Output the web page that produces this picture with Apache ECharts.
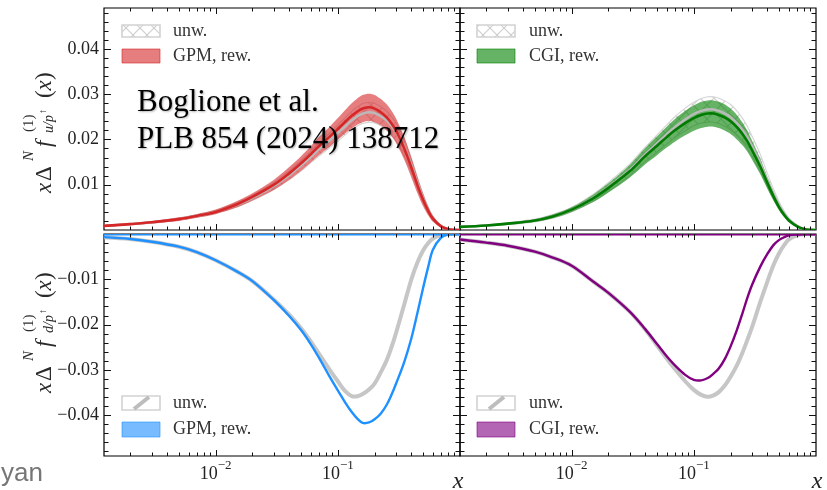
<!DOCTYPE html>
<html>
<head>
<meta charset="utf-8">
<script src="https://cdn.jsdelivr.net/npm/echarts@6/dist/echarts.min.js"></script>
<style>
  html, body { margin: 0; padding: 0; background: #fff; }
  #chart { width: 827px; height: 490px; }
</style>
</head>
<body>
<div id="chart"></div>
<script>
// x grid shared by every curve (log-spaced momentum fraction)
const xGrid = [0.00122, 0.002, 0.003, 0.005, 0.007, 0.01, 0.015, 0.02, 0.03, 0.04,
               0.05, 0.06, 0.07, 0.085, 0.1, 0.115, 0.13, 0.145, 0.16, 0.18,
               0.2, 0.225, 0.25, 0.275, 0.3, 0.35, 0.4, 0.45, 0.5, 0.55,
               0.6, 0.7, 0.8, 0.9, 1];

// u quark, GPM: reweighted central value and band
const uGpmRew   = [0.0009, 0.0013, 0.0017, 0.0024, 0.0031, 0.0040, 0.0057, 0.0073, 0.0100, 0.0125,
                   0.0147, 0.0167, 0.0185, 0.0205, 0.0223, 0.0239, 0.0252, 0.0262, 0.0268, 0.0271,
                   0.0268, 0.0260, 0.0249, 0.0235, 0.0219, 0.0180, 0.0138, 0.0098, 0.0066, 0.0042,
                   0.0025, 0.0008, 0.0002, 0.00003, 0];
const uGpmRewHi = [0.0011, 0.0015, 0.00195, 0.0028, 0.0035, 0.0045, 0.0064, 0.0081, 0.0111, 0.0139,
                   0.0163, 0.0185, 0.0205, 0.0227, 0.0247, 0.0265, 0.0280, 0.0291, 0.0298, 0.0301,
                   0.0298, 0.0289, 0.0278, 0.0263, 0.0246, 0.0205, 0.0160, 0.0116, 0.0080, 0.0052,
                   0.0032, 0.0011, 0.0003, 0.00006, 0];
const uGpmRewLo = [0.0007, 0.0011, 0.00145, 0.0020, 0.0027, 0.0035, 0.0050, 0.0065, 0.0089, 0.0111,
                   0.0131, 0.0149, 0.0165, 0.0183, 0.0199, 0.0213, 0.0224, 0.0233, 0.0238, 0.0241,
                   0.0238, 0.0231, 0.0220, 0.0207, 0.0192, 0.0155, 0.0116, 0.0080, 0.0052, 0.0032,
                   0.0018, 0.0005, 0.0001, 0, 0];
// u quark, GPM: unweighted
const uGpmUnw   = [0.0009, 0.0013, 0.0017, 0.0024, 0.0031, 0.0040, 0.0056, 0.0071, 0.0097, 0.0121,
                   0.0142, 0.0161, 0.0178, 0.0197, 0.0214, 0.0229, 0.0242, 0.0251, 0.0257, 0.0260,
                   0.0258, 0.0251, 0.0242, 0.0230, 0.0216, 0.0182, 0.0143, 0.0103, 0.0069, 0.0044,
                   0.0026, 0.0009, 0.0002, 0.00003, 0];
const uGpmUnwHi = [0.0010, 0.0014, 0.0019, 0.0026, 0.0034, 0.0043, 0.0061, 0.0077, 0.0105, 0.0131,
                   0.0154, 0.0174, 0.0193, 0.0213, 0.0232, 0.0248, 0.0262, 0.0272, 0.0279, 0.0282,
                   0.0280, 0.0272, 0.0263, 0.0250, 0.0236, 0.0200, 0.0158, 0.0115, 0.0078, 0.0050,
                   0.0030, 0.0010, 0.0003, 0.00005, 0];
const uGpmUnwLo = [0.0008, 0.0012, 0.0015, 0.0022, 0.0028, 0.0037, 0.0051, 0.0065, 0.0089, 0.0111,
                   0.0130, 0.0148, 0.0163, 0.0181, 0.0196, 0.0210, 0.0222, 0.0230, 0.0235, 0.0238,
                   0.0236, 0.0230, 0.0221, 0.0210, 0.0196, 0.0163, 0.0127, 0.0090, 0.0060, 0.0038,
                   0.0022, 0.0008, 0.0002, 0.00002, 0];

// u quark, CGI: reweighted
const uCgiRew   = [0.0007, 0.0010, 0.0014, 0.0021, 0.0030, 0.0045, 0.0070, 0.0093, 0.0130, 0.0163,
                   0.0186, 0.0205, 0.0220, 0.0236, 0.0247, 0.0254, 0.0257, 0.0257, 0.0254, 0.0248,
                   0.0240, 0.0227, 0.0212, 0.0195, 0.0176, 0.0140, 0.0104, 0.0074, 0.0050, 0.0033,
                   0.0021, 0.0008, 0.0002, 0.00003, 0];
const uCgiRewHi = [0.0008, 0.0011, 0.0016, 0.0024, 0.0034, 0.0050, 0.0078, 0.0103, 0.0144, 0.0181,
                   0.0207, 0.0228, 0.0245, 0.0263, 0.0275, 0.0283, 0.0286, 0.0286, 0.0283, 0.0277,
                   0.0268, 0.0254, 0.0237, 0.0218, 0.0197, 0.0157, 0.0117, 0.0084, 0.0057, 0.0038,
                   0.0025, 0.0010, 0.0003, 0.00005, 0];
const uCgiRewLo = [0.0006, 0.0009, 0.0012, 0.0018, 0.0026, 0.0040, 0.0062, 0.0083, 0.0116, 0.0145,
                   0.0165, 0.0182, 0.0195, 0.0209, 0.0219, 0.0225, 0.0228, 0.0228, 0.0225, 0.0219,
                   0.0212, 0.0200, 0.0187, 0.0172, 0.0155, 0.0123, 0.0091, 0.0064, 0.0043, 0.0028,
                   0.0017, 0.0006, 0.0001, 0, 0];
// u quark, CGI: unweighted
const uCgiUnw   = [0.0007, 0.0010, 0.0014, 0.0021, 0.0030, 0.0045, 0.0071, 0.0095, 0.0133, 0.0167,
                   0.0191, 0.0211, 0.0227, 0.0244, 0.0256, 0.0263, 0.0266, 0.0266, 0.0263, 0.0257,
                   0.0249, 0.0236, 0.0221, 0.0204, 0.0185, 0.0148, 0.0110, 0.0079, 0.0054, 0.0036,
                   0.0023, 0.0009, 0.0002, 0.00003, 0];
const uCgiUnwHi = [0.0008, 0.0011, 0.0016, 0.0024, 0.0034, 0.0050, 0.0079, 0.0105, 0.0146, 0.0183,
                   0.0210, 0.0232, 0.0250, 0.0269, 0.0282, 0.0290, 0.0294, 0.0294, 0.0291, 0.0285,
                   0.0277, 0.0263, 0.0247, 0.0228, 0.0207, 0.0167, 0.0125, 0.0090, 0.0062, 0.0042,
                   0.0027, 0.0011, 0.0003, 0.00005, 0];
const uCgiUnwLo = [0.0006, 0.0009, 0.0012, 0.0018, 0.0026, 0.0040, 0.0063, 0.0085, 0.0120, 0.0151,
                   0.0172, 0.0190, 0.0204, 0.0219, 0.0230, 0.0236, 0.0238, 0.0238, 0.0235, 0.0229,
                   0.0221, 0.0209, 0.0196, 0.0180, 0.0163, 0.0129, 0.0095, 0.0068, 0.0046, 0.0030,
                   0.0019, 0.0007, 0.0001, 0, 0];

// d quark, GPM
const dGpmRew = [-0.0007, -0.0011, -0.0017, -0.0028, -0.0040, -0.0058, -0.0083, -0.0104, -0.0146, -0.0181,
                 -0.0212, -0.0243, -0.0273, -0.0313, -0.0345, -0.0372, -0.0393, -0.0408, -0.0417, -0.0416,
                 -0.0409, -0.0396, -0.0378, -0.0355, -0.0330, -0.0282, -0.0230, -0.0172, -0.0118, -0.0072,
                 -0.0035, -0.0008, -0.0001, 0, 0];
const dGpmUnw = [-0.0007, -0.0011, -0.0017, -0.0028, -0.0040, -0.0058, -0.0083, -0.0104, -0.0145, -0.0178,
                 -0.0208, -0.0237, -0.0264, -0.0298, -0.0325, -0.0347, -0.0358, -0.0358, -0.0353, -0.0343,
                 -0.0330, -0.0305, -0.0280, -0.0250, -0.0218, -0.0155, -0.0100, -0.0062, -0.0036, -0.0020,
                 -0.0010, -0.0002, 0, 0, 0];

// d quark, CGI
const dCgiRew = [-0.0012, -0.0019, -0.0026, -0.0039, -0.0052, -0.0070, -0.0105, -0.0130, -0.0172, -0.0210,
                 -0.0243, -0.0270, -0.0290, -0.0311, -0.0322, -0.0323, -0.0318, -0.0308, -0.0297, -0.0275,
                 -0.0248, -0.0212, -0.0175, -0.0140, -0.0112, -0.0072, -0.0044, -0.0024, -0.0013, -0.0007,
                 -0.0003, -0.0001, 0, 0, 0];
const dCgiUnw = [-0.0012, -0.0019, -0.0026, -0.0039, -0.0052, -0.0070, -0.0105, -0.0130, -0.0172, -0.0211,
                 -0.0246, -0.0275, -0.0298, -0.0325, -0.0344, -0.0355, -0.0359, -0.0356, -0.0349, -0.0334,
                 -0.0315, -0.0290, -0.0262, -0.0233, -0.0205, -0.0150, -0.0105, -0.0068, -0.0042, -0.0024,
                 -0.0012, -0.0003, 0, 0, 0];

// axis ranges and tick values
const xMin = 0.00122, xMax = 1;
const xMajorTicks = [0.01, 0.1];
const xMinorTicks = [0.002, 0.003, 0.004, 0.005, 0.006, 0.007, 0.008, 0.009,
                     0.02, 0.03, 0.04, 0.05, 0.06, 0.07, 0.08, 0.09,
                     0.2, 0.3, 0.4, 0.5, 0.6, 0.7, 0.8, 0.9];
const yTopRange = [0, 0.049];
const yBottomRange = [-0.049, 0];
const yTopLabels = [0.01, 0.02, 0.03, 0.04];
const yBottomLabels = [-0.04, -0.03, -0.02, -0.01];
const yTopMinor = [0.002, 0.004, 0.006, 0.008, 0.012, 0.014, 0.016, 0.018, 0.022, 0.024, 0.026, 0.028,
                   0.032, 0.034, 0.036, 0.038, 0.042, 0.044, 0.046, 0.048];
const yBottomMinor = yTopMinor.map(v => -v);

// text
const legendUnw = 'unw.';
const legendRew = ['GPM, rew.', 'CGI, rew.', 'GPM, rew.', 'CGI, rew.'];
const noteLines = ['Boglione et al.', 'PLB 854 (2024) 138712'];

const SERIF = '"Liberation Serif", "Times New Roman", serif';
const SMOOTH = 0.35;

// cross-hatch used for the unweighted bands
const hatch = document.createElement('canvas');
hatch.width = 14; hatch.height = 14;
(function () {
  const c = hatch.getContext('2d');
  c.strokeStyle = '#cdcdcd';
  c.lineWidth = 1.1;
  c.beginPath();
  c.moveTo(0, 0); c.lineTo(14, 14);
  c.moveTo(14, 0); c.lineTo(0, 14);
  c.stroke();
})();
const hatchFill = { image: hatch, repeat: 'repeat' };

const COLORS = {
  red: '#d62728', redBand: 'rgba(214,39,40,0.6)',
  green: '#007a00', greenBand: 'rgba(0,128,0,0.6)',
  blue: '#1e90ff', blueBand: 'rgba(30,144,255,0.6)',
  purple: '#800080', purpleBand: 'rgba(128,0,128,0.6)',
  grey: '#bababa', greyEdge: '#d4d4d4', greyThick: '#c6c6c6'
};

function clipTo(cs) {
  return { type: 'rect', shape: { x: cs.x, y: cs.y, width: cs.width, height: cs.height } };
}

// uncertainty band: closed polygon between the upper and lower curves
function band(gi, lo, hi, fill, edge, z) {
  return {
    type: 'custom', xAxisIndex: gi, yAxisIndex: gi, silent: true, z: z,
    data: [[xGrid[0], lo[0]]],
    renderItem: function (params, api) {
      const n = xGrid.length;
      const upper = [], lower = [];
      for (let i = 0; i < n; i++) upper.push(api.coord([xGrid[i], hi[i]]));
      for (let i = n - 2; i >= 0; i--) lower.push(api.coord([xGrid[i], lo[i]]));
      return {
        type: 'group', clipPath: clipTo(params.coordSys),
        children: [{
          type: 'polygon',
          shape: { points: upper.concat(lower), smooth: 0.3 },
          style: { fill: fill, stroke: edge || null, lineWidth: edge ? 1.1 : 0 }
        }]
      };
    }
  };
}

// central curve; optionally with a zero line across the panel in the same colour
function curve(gi, ys, color, width, z, zeroColor) {
  return {
    type: 'custom', xAxisIndex: gi, yAxisIndex: gi, silent: true, z: z,
    data: [[xGrid[0], ys[0]]],
    renderItem: function (params, api) {
      const pts = xGrid.map((x, i) => api.coord([x, ys[i]]));
      const kids = [{
        type: 'polyline', shape: { points: pts, smooth: SMOOTH },
        style: { stroke: color, lineWidth: width, fill: null, lineJoin: 'round', lineCap: 'round' }
      }];
      if (zeroColor) {
        const a = api.coord([xMin, 0]), b = api.coord([xMax, 0]);
        kids.push({ type: 'line', shape: { x1: a[0], y1: a[1] + 0.5, x2: b[0], y2: b[1] + 0.5 },
                    style: { stroke: zeroColor, lineWidth: 2 } });
      }
      return { type: 'group', clipPath: clipTo(params.coordSys), children: kids };
    }
  };
}

// inward ticks on all four sides of a panel
function ticks(gi, yMajor, yMinor) {
  return {
    type: 'custom', xAxisIndex: gi, yAxisIndex: gi, silent: true, z: 6,
    data: [[0.01, yMajor[0]]],
    renderItem: function (params, api) {
      const cs = params.coordSys;
      const L = cs.x, R = cs.x + cs.width, T = cs.y, B = cs.y + cs.height;
      const kids = [];
      const seg = (x1, y1, x2, y2) => kids.push({ type: 'line', shape: { x1, y1, x2, y2 },
        style: { stroke: '#111', lineWidth: 1 } });
      const ym = yMajor[0];
      xMajorTicks.forEach(v => { const p = Math.round(api.coord([v, ym])[0]) + 0.5; seg(p, B, p, B - 6); seg(p, T, p, T + 6); });
      xMinorTicks.forEach(v => { const p = Math.round(api.coord([v, ym])[0]) + 0.5; seg(p, B, p, B - 3.5); seg(p, T, p, T + 3.5); });
      yMajor.forEach(v => { const p = Math.round(api.coord([xMin, v])[1]) + 0.5; seg(L, p, L + 7, p); seg(R, p, R - 7, p); });
      yMinor.forEach(v => { const p = Math.round(api.coord([xMin, v])[1]) + 0.5; seg(L, p, L + 4.5, p); seg(R, p, R - 4.5, p); });
      return { type: 'group', children: kids };
    }
  };
}

const grids = [
  { left: 104, top: 8, width: 356, height: 222 },
  { left: 460, top: 8, width: 356, height: 222 },
  { left: 104, top: 234, width: 356, height: 222 },
  { left: 460, top: 234, width: 356, height: 222 }
].map(g => Object.assign(g, { show: true, borderColor: '#000', borderWidth: 1.2, backgroundColor: 'transparent' }));

const xAxes = [0, 1, 2, 3].map(gi => ({
  type: 'log', logBase: 10, gridIndex: gi, min: xMin, max: xMax,
  axisLine: { show: false }, axisTick: { show: false }, splitLine: { show: false },
  axisLabel: {
    show: gi >= 2, margin: 3, showMinLabel: false, showMaxLabel: false,
    formatter: function (v) {
      const e = Math.log10(v);
      const r = Math.round(e);
      if (Math.abs(e - r) > 1e-6 || r === 0) return '';
      return '{b|10}{s|\u2212' + (-r) + '}';
    },
    rich: {
      b: { fontFamily: SERIF, fontSize: 18, color: '#222', lineHeight: 24, verticalAlign: 'bottom' },
      s: { fontFamily: SERIF, fontSize: 13, color: '#222', verticalAlign: 'top' }
    }
  }
}));

const yAxes = [0, 1, 2, 3].map(gi => {
  const top = gi < 2;
  return {
    type: 'value', gridIndex: gi,
    min: top ? yTopRange[0] : yBottomRange[0], max: top ? yTopRange[1] : yBottomRange[1],
    axisLine: { show: false }, axisTick: { show: false }, splitLine: { show: false },
    axisLabel: {
      show: gi % 2 === 0, margin: 5, fontFamily: SERIF, fontSize: 18, color: '#222',
      customValues: top ? yTopLabels : yBottomLabels,
      formatter: v => (v < 0 ? '\u2212' : '') + Math.abs(v).toFixed(2)
    }
  };
});

const series = [
  // top-left: u, GPM
  band(0, uGpmUnwLo, uGpmUnwHi, hatchFill, COLORS.greyEdge, 1),
  band(0, uGpmRewLo, uGpmRewHi, COLORS.redBand, null, 2),
  curve(0, uGpmUnw, COLORS.grey, 2.5, 3), curve(0, uGpmRew, COLORS.red, 2.6, 4),
  // top-right: u, CGI
  band(1, uCgiUnwLo, uCgiUnwHi, hatchFill, COLORS.greyEdge, 1),
  band(1, uCgiRewLo, uCgiRewHi, COLORS.greenBand, null, 2),
  curve(1, uCgiUnw, COLORS.grey, 2.5, 3), curve(1, uCgiRew, COLORS.green, 2.6, 4),
  // bottom-left: d, GPM
  curve(2, dGpmUnw, COLORS.greyThick, 4, 3),
  curve(2, dGpmRew, COLORS.blue, 2.4, 4, COLORS.blue),
  // bottom-right: d, CGI
  curve(3, dCgiUnw, COLORS.greyThick, 4, 3),
  curve(3, dCgiRew, COLORS.purple, 2.4, 4, COLORS.purple),
  // frame ticks
  ticks(0, yTopLabels, yTopMinor), ticks(1, yTopLabels, yTopMinor),
  ticks(2, yBottomLabels, yBottomMinor), ticks(3, yBottomLabels, yBottomMinor)
];

// y-axis titles: x Δ^N f^(1)_{q/p↑}(x), written bottom-to-top
function yTitle(ox, oy, flavour) {
  const ink = '#2a2a2a';
  const t = (x, y, text, font) => ({ type: 'text', x: x, y: y,
    style: { text: text, font: font, fill: ink, verticalAlign: 'middle', align: 'left' } });
  return { type: 'group', x: ox, y: oy, rotation: Math.PI / 2, silent: true, children: [
    t(0, -7.5, 'x', 'italic 23px ' + SERIF),
    t(12, -7.5, '\u0394', '23px ' + SERIF),
    t(32, -23, 'N', 'italic 15px ' + SERIF),
    t(46, -7.5, 'f', 'italic 23px ' + SERIF),
    t(61, -23, '(1)', '15px ' + SERIF),
    t(60, -3, flavour + '/p', 'italic 14px ' + SERIF),
    t(79, -9, '\u2191', '10px ' + SERIF),
    t(95, -7.5, '(', '23px ' + SERIF),
    t(102.5, -7.5, 'x', 'italic 23px ' + SERIF),
    t(113, -7.5, ')', '23px ' + SERIF)
  ] };
}

function legend(px, tx, yUnw, hUnw, yRew, hRew, bandColor, label, slashStyle) {
  const els = [];
  els.push({ type: 'rect', shape: { x: px, y: yUnw, width: 38, height: hUnw },
    style: { fill: slashStyle ? '#fff' : hatchFill, stroke: '#d2d2d2', lineWidth: 1.6 }, z: 20 });
  if (slashStyle) {
    els.push({ type: 'line', shape: { x1: px + 12, y1: yUnw + hUnw - 1, x2: px + 27, y2: yUnw + 1 },
      style: { stroke: '#bdbdbd', lineWidth: 4 }, z: 21 });
  }
  els.push({ type: 'rect', shape: { x: px, y: yRew, width: 38, height: hRew },
    style: { fill: bandColor, stroke: bandColor, lineWidth: 1 }, z: 20 });
  els.push({ type: 'text', x: tx, y: yUnw + hUnw / 2, z: 20,
    style: { text: legendUnw, font: '18px ' + SERIF, fill: '#333', verticalAlign: 'middle' } });
  els.push({ type: 'text', x: tx, y: yRew + hRew / 2, z: 20,
    style: { text: label, font: '18px ' + SERIF, fill: '#333', verticalAlign: 'middle' } });
  return els;
}

const graphics = [].concat(
  [yTitle(52, 193, 'u'), yTitle(52, 393, 'd')],
  legend(122, 173, 25, 12, 49, 14, COLORS.redBand, legendRew[0], false),
  legend(477, 529, 25, 12, 49, 14, COLORS.greenBand, legendRew[1], false),
  legend(122, 173, 396, 14, 422, 15, COLORS.blueBand, legendRew[2], true),
  legend(477, 529, 396, 14, 422, 15, COLORS.purpleBand, legendRew[3], true),
  [
    { type: 'text', x: 137, y: 103, z: 30, silent: true,
      style: { text: noteLines[0], font: '31px ' + SERIF, fill: '#000', verticalAlign: 'middle',
               textShadowColor: 'rgba(0,0,0,0.3)', textShadowBlur: 2, textShadowOffsetX: 1, textShadowOffsetY: 1 } },
    { type: 'text', x: 137, y: 140, z: 30, silent: true,
      style: { text: noteLines[1], font: '31px ' + SERIF, fill: '#000', verticalAlign: 'middle',
               textShadowColor: 'rgba(0,0,0,0.3)', textShadowBlur: 2, textShadowOffsetX: 1, textShadowOffsetY: 1 } },
    { type: 'text', x: 458, y: 482, silent: true,
      style: { text: 'x', font: 'italic 24px ' + SERIF, fill: '#222', align: 'center', verticalAlign: 'middle' } },
    { type: 'text', x: 817, y: 482, silent: true,
      style: { text: 'x', font: 'italic 24px ' + SERIF, fill: '#222', align: 'center', verticalAlign: 'middle' } },
    { type: 'text', x: 1, y: 474, silent: true,
      style: { text: 'yan', font: '26px "Liberation Sans", "Noto Sans", sans-serif', fill: '#767676', verticalAlign: 'middle' } }
  ]
);

const chart = echarts.init(document.getElementById('chart'), null, { renderer: 'canvas' });
chart.setOption({
  animation: false,
  backgroundColor: '#fff',
  grid: grids,
  xAxis: xAxes,
  yAxis: yAxes,
  series: series,
  graphic: { elements: graphics }
});
</script>
</body>
</html>
